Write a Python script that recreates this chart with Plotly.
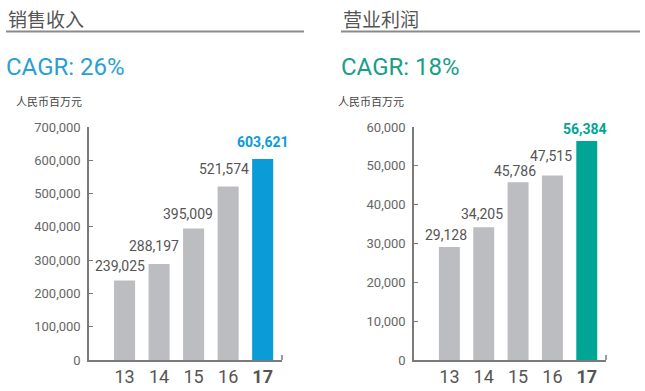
import plotly.graph_objects as go

years = ["13", "14", "15", "16", "17"]
revenue = [239025, 288197, 395009, 521574, 603621]
profit = [29128, 34205, 45786, 47515, 56384]
rev_ticks = [0, 100000, 200000, 300000, 400000, 500000, 600000, 700000]
pro_ticks = [0, 10000, 20000, 30000, 40000, 50000, 60000]

W, H = 645, 391
GRAY = "#bcbdc0"
BLUE = "#0b9bd7"
TEAL = "#00a595"
AX = "#7a7a7a"
NUMF = "Roboto, Noto Sans, sans-serif"
CJK = "Noto Sans CJK SC, sans-serif"

fig = go.Figure()

def px_x(p):
    return p / W

def px_y(p):
    return 1 - p / H

panels = [
    dict(vals=revenue, ticks=rev_ticks, rng=700000, hl=BLUE, xa="x", ya="y",
         dom=(89, 282), title="销售收入", cagr="CAGR: 26%", tx=6, ulx=(6, 304), unitx=14,
         lx=[-5, -5, -6, -4, 0], ly=[14, 18, 15, 17, 17]),
    dict(vals=profit, ticks=pro_ticks, rng=60000, hl=TEAL, xa="x2", ya="y2",
         dom=(414, 606), title="营业利润", cagr="CAGR: 18%", tx=341, ulx=(341, 640), unitx=336,
         lx=[-3, -2, -3, -1, -2], ly=[12, 13, 11, 19, 12]),
]

annotations = []
shapes = []
for i, p in enumerate(panels):
    colors = [GRAY] * (len(years) - 1) + [p["hl"]]
    fig.add_trace(go.Bar(x=list(range(len(years))), y=p["vals"], marker_color=colors,
                         marker_line_width=0, width=0.61, xaxis=p["xa"], yaxis=p["ya"],
                         hoverinfo="skip", showlegend=False))
    sfx = "" if i == 0 else "2"
    fig.layout["xaxis" + sfx] = dict(
        domain=[px_x(p["dom"][0]), px_x(p["dom"][1])], range=[-1.03, 4.56],
        tickmode="array", tickvals=list(range(len(years))),
        ticktext=[y for y in years[:-1]] + ["<b>" + years[-1] + "</b>"],
        tickfont=dict(family=NUMF, size=18, color="#555555"),
        showline=True, linecolor=AX, linewidth=1.5, ticks="", showgrid=False,
        zeroline=False, anchor="y" + sfx, fixedrange=True, automargin=False)
    fig.layout["yaxis" + sfx] = dict(
        domain=[px_y(360), px_y(127)], range=[0, p["rng"]],
        tickmode="array", tickvals=p["ticks"], ticktext=[f"{t:,}" for t in p["ticks"]],
        tickfont=dict(family=NUMF, size=13, color="#666666"),
        showline=True, linecolor=AX, linewidth=1.5, ticks="inside", ticklen=4,
        tickcolor=AX, tickwidth=1.2, showgrid=False, zeroline=False,
        anchor="x" + sfx, ticklabelstandoff=4, fixedrange=True, automargin=False)
    # value labels
    n = len(years)
    for j, v in enumerate(p["vals"]):
        last = j == n - 1
        annotations.append(dict(
            x=j, y=v, xref=p["xa"], yref=p["ya"], xanchor="center", yanchor="middle",
            text=(f"<b>{v:,}</b>" if last else f"{v:,}"), showarrow=False,
            xshift=p["lx"][j], yshift=p["ly"][j],
            font=dict(family=NUMF, size=14, color=(p["hl"] if last else "#555555"))))
    # titles
    annotations.append(dict(x=px_x(p["tx"]), y=px_y(18), xref="paper", yref="paper",
                            xanchor="left", yanchor="middle", text=p["title"], showarrow=False,
                            font=dict(family=CJK, size=19, color="#555555")))
    annotations.append(dict(x=px_x(p["tx"] - 2), y=px_y(67), xref="paper", yref="paper",
                            xanchor="left", yanchor="middle", text=p["cagr"], showarrow=False,
                            font=dict(family="Roboto, sans-serif", size=24,
                                      color=("#2a9fd2" if i == 0 else "#1a9e88"))))
    annotations.append(dict(x=px_x(p["unitx"]), y=px_y(101), xref="paper", yref="paper",
                            xanchor="left", yanchor="middle", text="人民币百万元", showarrow=False,
                            font=dict(family=CJK, size=11, color="#444444")))
    shapes.append(dict(type="line", xref="paper", yref="paper",
                       x0=px_x(p["ulx"][0]), x1=px_x(p["ulx"][1]), y0=px_y(31.5), y1=px_y(31.5),
                       line=dict(color="#8a8a8a", width=2)))
    shapes.append(dict(type="line", xref="paper", yref="paper",
                       x0=px_x(p["dom"][1]), x1=px_x(p["dom"][1]), y0=px_y(360), y1=px_y(355),
                       line=dict(color=AX, width=1.5)))

fig.update_layout(width=W, height=H, margin=dict(l=0, r=0, t=0, b=0, autoexpand=False),
                  plot_bgcolor="white", paper_bgcolor="white", bargap=0.4,
                  annotations=annotations, shapes=shapes, showlegend=False)

fig.write_html("out.html", config={"displayModeBar": False},
               post_script="document.body.style.margin='0';document.body.style.overflow='hidden';")
